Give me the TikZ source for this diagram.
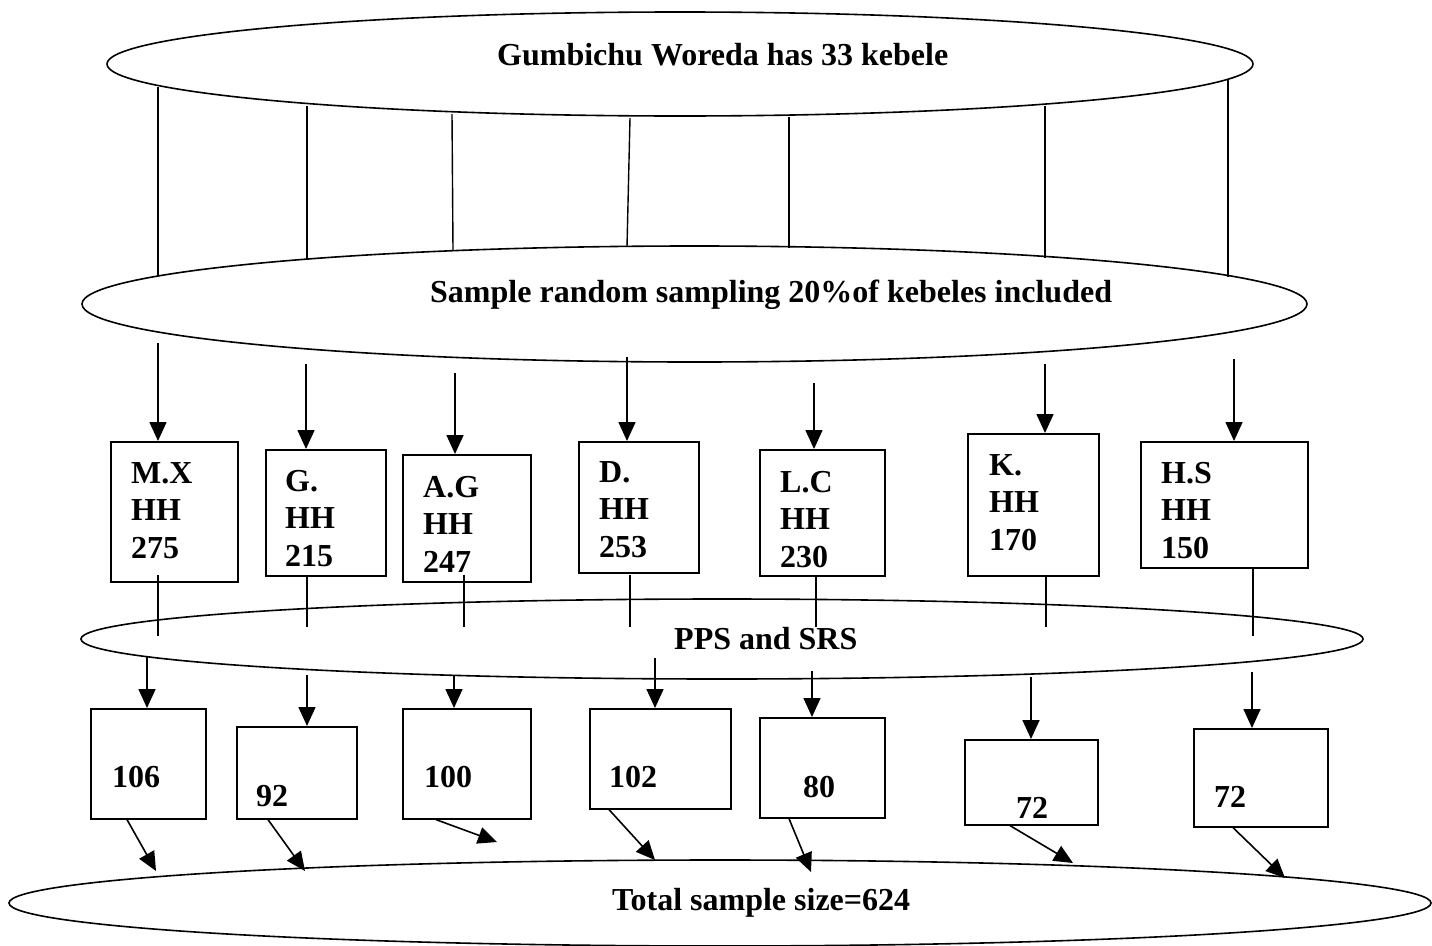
\documentclass[tikz,border=0pt]{standalone}
\usepackage{fontspec}
\setmainfont{Liberation Serif}
\usetikzlibrary{shapes.geometric,arrows.meta}

\newcommand\bigbold{\fontsize{32}{37.5}\selectfont\bfseries}

\tikzset{
  ell/.style={draw, ellipse, line width=1.6pt, inner sep=0pt},
  kbox/.style={draw, line width=1.6pt, anchor=north west, inner sep=0pt},
  lbl/.style={anchor=base west, inner sep=0pt, align=left, font=\bigbold},
  arr/.style={line width=1.6pt, -{Triangle[length=19pt,width=17pt]}},
  plain/.style={line width=1.4pt}
}

\begin{document}
\begin{tikzpicture}[x=1pt,y=-1pt]

\useasboundingbox (0,0) rectangle (1432,945);

% the four stages
\node[ell, minimum width=1146pt, minimum height=104pt] (woreda) at (680,64) {};
\node[ell, minimum width=1225pt, minimum height=116pt] (srs) at (694.5,304) {};
\node[ell, minimum width=1282pt, minimum height=80pt] (pps) at (722,639) {};
\node[ell, minimum width=1422pt, minimum height=86pt] (total) at (720,903) {};

\node[lbl] (woredat) at (497,65) {Gumbichu Woreda has 33 kebele};
\node[lbl] (srst) at (430,302) {Sample random sampling 20\%of kebeles included};
\node[lbl] (ppst) at (674,649) {PPS and SRS};
\node[lbl] (totalt) at (612,910) {Total sample size=624};

% lines between the two upper ellipses
\foreach \xa/\ya/\xb/\yb in {158/87/158/276, 307/106/307/259, 452/114/453/250,
    630/118/627/247, 789/117/789/248, 1045/106/1045/258, 1228/80/1228/277}
  \draw[plain] (\xa,\ya) -- (\xb,\yb);

% selected kebeles
\node[kbox, minimum width=127pt, minimum height=140pt] (mx) at (110,441) {};
\node[kbox, minimum width=120pt, minimum height=126pt] (g) at (265,449) {};
\node[kbox, minimum width=128pt, minimum height=127pt] (ag) at (402,454) {};
\node[kbox, minimum width=120pt, minimum height=131pt] (d) at (578,441) {};
\node[kbox, minimum width=125pt, minimum height=126pt] (lc) at (759,449) {};
\node[kbox, minimum width=131pt, minimum height=142pt] (k) at (967,433) {};
\node[kbox, minimum width=167pt, minimum height=126pt] (hs) at (1140,441) {};

% base = last line
\node[lbl] (mxt) at (131,558) {M.X\\HH\\275};
\node[lbl] (gt) at (285,566) {G.\\HH\\215};
\node[lbl] (agt) at (423,572) {A.G\\HH\\247};
\node[lbl] (dt) at (599,557) {D.\\HH\\253};
\node[lbl] (lct) at (780,567) {L.C\\HH\\230};
\node[lbl] (kt) at (989,550) {K.\\HH\\170};
\node[lbl] (hst) at (1161,558) {H.S\\HH\\150};

\draw[arr] (158,343) -- (158,343 |- mx.north);
\draw[arr] (306,364) -- (306,364 |- g.north);
\draw[arr] (455,373) -- (455,373 |- ag.north);
\draw[arr] (627,357) -- (627,357 |- d.north);
\draw[arr] (814,383) -- (814,383 |- lc.north);
\draw[arr] (1045,364) -- (1045,364 |- k.north);
\draw[arr] (1234,359) -- (1234,359 |- hs.north);

% lines through PPS and SRS
\foreach \xa/\ya/\yb in {158/575/636, 307/575/627, 464/575/627, 630/575/627,
    816/575/627, 1046/575/627, 1253/567/636}
  \draw[plain] (\xa,\ya) -- (\xa,\yb);

% sample per kebele
\node[kbox, minimum width=115pt, minimum height=110pt] (nmx) at (90,708) {};
\node[kbox, minimum width=120pt, minimum height=92pt] (ng) at (236,726) {};
\node[kbox, minimum width=128pt, minimum height=110pt] (nag) at (402,708) {};
\node[kbox, minimum width=141pt, minimum height=100pt] (nd) at (589,708) {};
\node[kbox, minimum width=125pt, minimum height=100pt] (nlc) at (759,717) {};
\node[kbox, minimum width=133pt, minimum height=85pt] (nk) at (964,739) {};
\node[kbox, minimum width=134pt, minimum height=98pt] (nhs) at (1193,728) {};

\node[lbl] (nmxt) at (112,787) {106};
\node[lbl] (ngt) at (256,806) {92};
\node[lbl] (nagt) at (424,787) {100};
\node[lbl] (ndt) at (609,787) {102};
\node[lbl] (nlct) at (803,797) {80};
\node[lbl] (nkt) at (1016,818) {72};
\node[lbl] (nhst) at (1214,807) {72};

\draw[arr] (147,656) -- (147,656 |- nmx.north);
\draw[arr] (307,675) -- (307,675 |- ng.north);
\draw[arr] (454,675) -- (454,675 |- nag.north);
\draw[arr] (655,658) -- (655,658 |- nd.north);
\draw[arr] (812,671) -- (812,671 |- nlc.north);
\draw[arr] (1031,677) -- (1031,677 |- nk.north);
\draw[arr] (1252,672) -- (1252,672 |- nhs.north);

% into the total
\draw[arr] (nmx.south -| 127,0) -- (156,871);
\draw[arr] (ng.south -| 268,0) -- (305,871);
\draw[arr] (nag.south -| 436,0) -- (497,842);
\draw[arr] (nd.south -| 609,0) -- (655,860);
\draw[arr] (nlc.south -| 789,0) -- (811,872);
\draw[arr] (nk.south -| 1010,0) -- (1073,863);
\draw[arr] (nhs.south -| 1233,0) -- (1285,878);

\end{tikzpicture}
\end{document}
